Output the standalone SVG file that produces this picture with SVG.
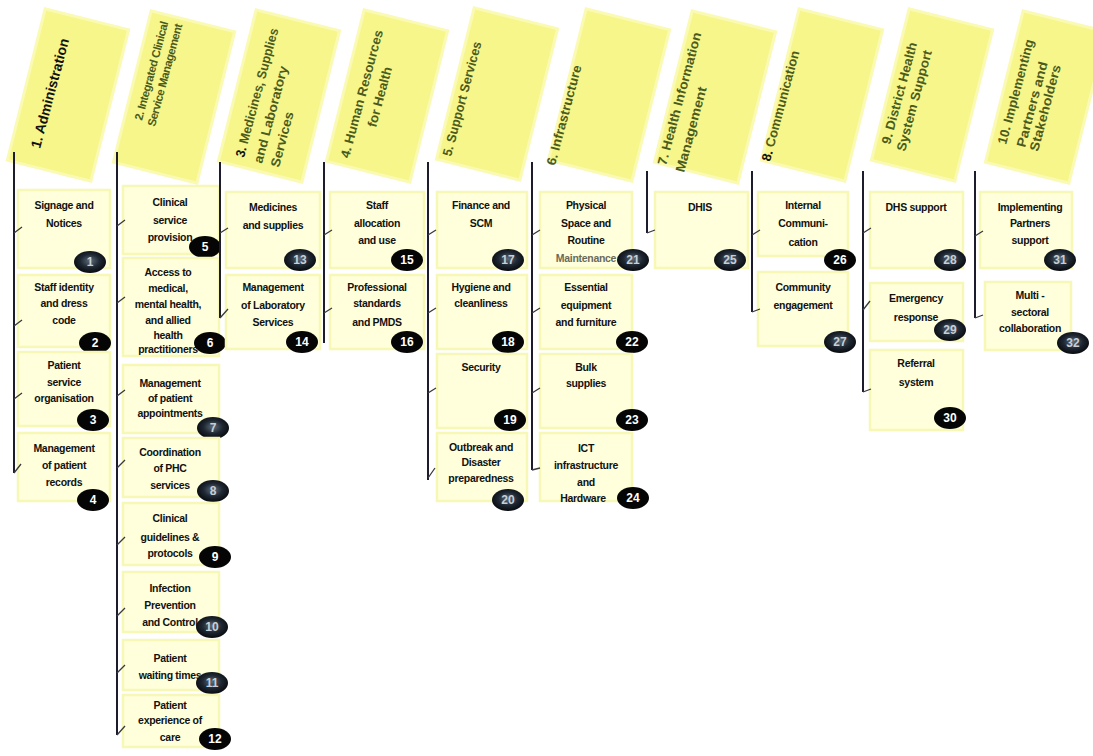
<svg xmlns="http://www.w3.org/2000/svg" width="1093" height="756" viewBox="0 0 1093 756">
<style>
.bgc{fill:#ffffff}
.hdr{fill:#f6f68a;stroke:#fafab4;stroke-width:3}
.ht{font-family:"Liberation Sans",Arial,sans-serif;font-weight:bold;fill:#4b5b1e}
.box{fill:#ffffdc;stroke:#f7f7b6;stroke-width:2.5}
.bt{font-family:"Liberation Sans",Arial,sans-serif;font-weight:bold;font-size:10.5px;letter-spacing:-0.3px;fill:#111;text-anchor:middle}
.bf{fill:#050505}
.bgl{fill:url(#gl)}
.bn{font-family:"Liberation Sans",Arial,sans-serif;font-weight:bold;font-size:12px;fill:#fff;text-anchor:middle}
.bng{font-family:"Liberation Sans",Arial,sans-serif;font-weight:bold;font-size:12px;fill:#c9ced4;text-anchor:middle}
.vl{stroke:#1c1c2c;stroke-width:2;fill:none}
.tk{stroke:#3a3a3a;stroke-width:1.3;fill:none}
</style>
<defs>
<radialGradient id="gl" cx="50%" cy="45%" r="60%">
<stop offset="0" stop-color="#5e6e7c"/>
<stop offset="0.5" stop-color="#1e2732"/>
<stop offset="1" stop-color="#040507"/>
</radialGradient>
</defs>
<rect class="bgc" x="0" y="0" width="1093" height="756"/>

<g id="headers">
<g id="h1"><rect class="hdr" x="-43" y="-78" width="86" height="156" transform="translate(68,95) rotate(14)"/>
<text class="ht" style="fill:#111" font-size="14" x="40" y="149" textLength="113" lengthAdjust="spacingAndGlyphs" transform="rotate(-75 40 149)">1. Administration</text></g>
<g id="h2"><rect class="hdr" x="-43" y="-78" width="86" height="156" transform="translate(174,97) rotate(14)"/>
<text class="ht" font-size="11.5" letter-spacing="-0.5" x="142" y="121" transform="rotate(-75 142 121)">2. Integrated Clinical</text>
<text class="ht" font-size="11.5" letter-spacing="-0.5" x="155" y="127" transform="rotate(-75 155 127)">Service Management</text></g>
<g id="h3"><rect class="hdr" x="-43" y="-78" width="86" height="156" transform="translate(279,96) rotate(14)"/>
<text class="ht" font-size="13" x="244" y="158" textLength="133" lengthAdjust="spacingAndGlyphs" transform="rotate(-75 244 158)"><tspan style="fill:#111">3.</tspan> Medicines, Supplies</text>
<text class="ht" font-size="13" x="262" y="164" textLength="100" lengthAdjust="spacingAndGlyphs" transform="rotate(-75 262 164)">and Laboratory</text>
<text class="ht" font-size="13" x="279" y="168" textLength="57" lengthAdjust="spacingAndGlyphs" transform="rotate(-75 279 168)">Services</text></g>
<g id="h4"><rect class="hdr" x="-43" y="-78" width="86" height="156" transform="translate(387,96) rotate(14)"/>
<text class="ht" font-size="13" text-anchor="middle" x="366" y="95" textLength="132" lengthAdjust="spacingAndGlyphs" transform="rotate(-75 366 95)">4. Human Resources</text>
<text class="ht" font-size="13" text-anchor="middle" x="384" y="98" textLength="62" lengthAdjust="spacingAndGlyphs" transform="rotate(-75 384 98)">for Health</text></g>
<g id="h5"><rect class="hdr" x="-43" y="-78" width="86" height="156" transform="translate(497,94) rotate(14)"/>
<text class="ht" font-size="13" x="451" y="157" textLength="118" lengthAdjust="spacingAndGlyphs" transform="rotate(-75 451 157)">5. Support Services</text></g>
<g id="h6"><rect class="hdr" x="-43" y="-78" width="86" height="156" transform="translate(609,95) rotate(14)"/>
<text class="ht" font-size="13" x="555" y="166" textLength="103" lengthAdjust="spacingAndGlyphs" transform="rotate(-75 555 166)">6. Infrastructure</text></g>
<g id="h7"><rect class="hdr" x="-43" y="-78" width="86" height="156" transform="translate(715,97) rotate(14)"/>
<text class="ht" font-size="13" x="666" y="166" textLength="137" lengthAdjust="spacingAndGlyphs" transform="rotate(-75 666 166)">7. Health Information</text>
<text class="ht" font-size="13" x="684" y="173" textLength="88" lengthAdjust="spacingAndGlyphs" transform="rotate(-75 684 173)">Management</text></g>
<g id="h8"><rect class="hdr" x="-43" y="-78" width="86" height="156" transform="translate(822,95) rotate(14)"/>
<text class="ht" font-size="13" x="770" y="162" textLength="114" lengthAdjust="spacingAndGlyphs" transform="rotate(-75 770 162)"><tspan style="fill:#111">8.</tspan> Communication</text></g>
<g id="h9"><rect class="hdr" x="-43" y="-78" width="86" height="156" transform="translate(932,95) rotate(14)"/>
<text class="ht" font-size="13" x="890" y="145" textLength="105" lengthAdjust="spacingAndGlyphs" transform="rotate(-75 890 145)">9. District Health</text>
<text class="ht" font-size="13" x="905" y="152" textLength="104" lengthAdjust="spacingAndGlyphs" transform="rotate(-75 905 152)">System Support</text></g>
<g id="h10"><rect class="hdr" x="-43" y="-78" width="86" height="156" transform="translate(1046,97) rotate(14)"/>
<text class="ht" font-size="13" x="1006" y="145" textLength="108" lengthAdjust="spacingAndGlyphs" transform="rotate(-75 1006 145)">10. Implementing</text>
<text class="ht" font-size="13" x="1025" y="148" textLength="88" lengthAdjust="spacingAndGlyphs" transform="rotate(-75 1025 148)">Partners and</text>
<text class="ht" font-size="13" x="1038" y="152" textLength="89" lengthAdjust="spacingAndGlyphs" transform="rotate(-75 1038 152)">Stakeholders</text></g>
</g>

<g id="nodes">
<!-- Column 1 -->
<g id="n1"><rect class="box" x="18" y="190" width="92" height="78"/><text class="bt" x="64" y="209">Signage and</text><text class="bt" x="64" y="227">Notices</text><ellipse class="bgl" cx="90" cy="262" rx="16" ry="11"/><text class="bng" x="90" y="266">1</text></g>
<g id="n2"><rect class="box" x="18" y="275" width="92" height="72"/><text class="bt" x="64" y="291">Staff identity</text><text class="bt" x="64" y="307">and dress</text><text class="bt" x="64" y="324">code</text><ellipse class="bf" cx="95" cy="343" rx="16" ry="11"/><text class="bn" x="95" y="347">2</text></g>
<g id="n3"><rect class="box" x="18" y="352" width="92" height="74"/><text class="bt" x="64" y="369">Patient</text><text class="bt" x="64" y="386">service</text><text class="bt" x="64" y="402">organisation</text><ellipse class="bf" cx="93" cy="420" rx="16" ry="11"/><text class="bn" x="93" y="424">3</text></g>
<g id="n4"><rect class="box" x="18" y="433" width="92" height="68"/><text class="bt" x="64" y="452">Management</text><text class="bt" x="64" y="469">of patient</text><text class="bt" x="64" y="486">records</text><ellipse class="bf" cx="93" cy="500" rx="16" ry="11"/><text class="bn" x="93" y="504">4</text></g>
<!-- Column 2 -->
<g id="n5"><rect class="box" x="123" y="186" width="96" height="68"/><text class="bt" x="170" y="206">Clinical</text><text class="bt" x="170" y="224">service</text><text class="bt" x="170" y="241">provision</text><ellipse class="bf" cx="205" cy="247" rx="16" ry="11"/><text class="bn" x="205" y="251">5</text></g>
<g id="n6"><rect class="box" x="123" y="258" width="96" height="98"/><text class="bt" x="168" y="276">Access to</text><text class="bt" x="168" y="292">medical,</text><text class="bt" x="168" y="308">mental health,</text><text class="bt" x="168" y="324">and allied</text><text class="bt" x="168" y="339">health</text><text class="bt" x="168" y="353">practitioners</text><ellipse class="bf" cx="210" cy="343" rx="16" ry="11"/><text class="bn" x="210" y="347">6</text></g>
<g id="n7"><rect class="box" x="123" y="365" width="96" height="68"/><text class="bt" x="170" y="387">Management</text><text class="bt" x="170" y="402">of patient</text><text class="bt" x="170" y="417">appointments</text><ellipse class="bgl" cx="213" cy="428" rx="16" ry="11"/><text class="bng" x="213" y="432">7</text></g>
<g id="n8"><rect class="box" x="123" y="438" width="96" height="59"/><text class="bt" x="170" y="456">Coordination</text><text class="bt" x="170" y="472">of PHC</text><text class="bt" x="170" y="489">services</text><ellipse class="bgl" cx="213" cy="491" rx="16" ry="11"/><text class="bng" x="213" y="495">8</text></g>
<g id="n9"><rect class="box" x="123" y="503" width="96" height="62"/><text class="bt" x="170" y="522">Clinical</text><text class="bt" x="170" y="541">guidelines &amp;</text><text class="bt" x="170" y="557">protocols</text><ellipse class="bf" cx="215" cy="557" rx="16" ry="11"/><text class="bn" x="215" y="561">9</text></g>
<g id="n10"><rect class="box" x="123" y="572" width="96" height="60"/><text class="bt" x="170" y="592">Infection</text><text class="bt" x="170" y="609">Prevention</text><text class="bt" x="170" y="626">and Control</text><ellipse class="bgl" cx="212" cy="627" rx="16" ry="11"/><text class="bng" x="212" y="631">10</text></g>
<g id="n11"><rect class="box" x="123" y="640" width="96" height="50"/><text class="bt" x="170" y="662">Patient</text><text class="bt" x="170" y="679">waiting times</text><ellipse class="bgl" cx="212" cy="683" rx="16" ry="11"/><text class="bng" x="212" y="687">11</text></g>
<g id="n12"><rect class="box" x="123" y="695" width="96" height="52"/><text class="bt" x="170" y="709">Patient</text><text class="bt" x="170" y="724">experience of</text><text class="bt" x="170" y="741">care</text><ellipse class="bf" cx="215" cy="739" rx="16" ry="11"/><text class="bn" x="215" y="743">12</text></g>
<!-- Column 3 -->
<g id="n13"><rect class="box" x="226" y="192" width="94" height="76"/><text class="bt" x="273" y="211">Medicines</text><text class="bt" x="273" y="229">and supplies</text><ellipse class="bgl" cx="300" cy="260" rx="16" ry="11"/><text class="bng" x="300" y="264">13</text></g>
<g id="n14"><rect class="box" x="226" y="275" width="94" height="74"/><text class="bt" x="273" y="291">Management</text><text class="bt" x="273" y="309">of Laboratory</text><text class="bt" x="273" y="326">Services</text><ellipse class="bf" cx="302" cy="342" rx="16" ry="11"/><text class="bn" x="302" y="346">14</text></g>
<!-- Column 4 -->
<g id="n15"><rect class="box" x="330" y="192" width="94" height="76"/><text class="bt" x="377" y="209">Staff</text><text class="bt" x="377" y="227">allocation</text><text class="bt" x="377" y="244">and use</text><ellipse class="bf" cx="407" cy="260" rx="16" ry="11"/><text class="bn" x="407" y="264">15</text></g>
<g id="n16"><rect class="box" x="330" y="275" width="94" height="74"/><text class="bt" x="377" y="291">Professional</text><text class="bt" x="377" y="307">standards</text><text class="bt" x="377" y="326">and PMDS</text><ellipse class="bf" cx="407" cy="342" rx="16" ry="11"/><text class="bn" x="407" y="346">16</text></g>
<!-- Column 5 -->
<g id="n17"><rect class="box" x="437" y="192" width="90" height="76"/><text class="bt" x="481" y="209">Finance and</text><text class="bt" x="481" y="227">SCM</text><ellipse class="bgl" cx="508" cy="260" rx="16" ry="11"/><text class="bng" x="508" y="264">17</text></g>
<g id="n18"><rect class="box" x="437" y="275" width="90" height="74"/><text class="bt" x="481" y="291">Hygiene and</text><text class="bt" x="481" y="307">cleanliness</text><ellipse class="bf" cx="508" cy="342" rx="16" ry="11"/><text class="bn" x="508" y="346">18</text></g>
<g id="n19"><rect class="box" x="437" y="354" width="90" height="74"/><text class="bt" x="481" y="371">Security</text><ellipse class="bf" cx="510" cy="420" rx="16" ry="11"/><text class="bn" x="510" y="424">19</text></g>
<g id="n20"><rect class="box" x="437" y="433" width="90" height="68"/><text class="bt" x="481" y="451">Outbreak and</text><text class="bt" x="481" y="466">Disaster</text><text class="bt" x="481" y="482">preparedness</text><ellipse class="bgl" cx="508" cy="500" rx="16" ry="11"/><text class="bng" x="508" y="504">20</text></g>
<!-- Column 6 -->
<g id="n21"><rect class="box" x="540" y="192" width="92" height="76"/><text class="bt" x="586" y="209">Physical</text><text class="bt" x="586" y="227">Space and</text><text class="bt" x="586" y="244">Routine</text><text class="bt" x="586" y="262" style="fill:#6a6a5a">Maintenance</text><ellipse class="bgl" cx="633" cy="260" rx="16" ry="11"/><text class="bng" x="633" y="264">21</text></g>
<g id="n22"><rect class="box" x="540" y="275" width="92" height="74"/><text class="bt" x="586" y="291">Essential</text><text class="bt" x="586" y="309">equipment</text><text class="bt" x="586" y="326">and furniture</text><ellipse class="bf" cx="632" cy="342" rx="16" ry="11"/><text class="bn" x="632" y="346">22</text></g>
<g id="n23"><rect class="box" x="540" y="354" width="92" height="74"/><text class="bt" x="586" y="371">Bulk</text><text class="bt" x="586" y="387">supplies</text><ellipse class="bf" cx="632" cy="420" rx="16" ry="11"/><text class="bn" x="632" y="424">23</text></g>
<g id="n24"><rect class="box" x="540" y="433" width="92" height="68"/><text class="bt" x="586" y="452">ICT</text><text class="bt" x="586" y="469">infrastructure</text><text class="bt" x="586" y="486">and</text><text class="bt" x="583" y="502">Hardware</text><ellipse class="bf" cx="633" cy="498" rx="16" ry="11"/><text class="bn" x="633" y="502">24</text></g>
<!-- Column 7 -->
<g id="n25"><rect class="box" x="655" y="192" width="93" height="76"/><text class="bt" x="700" y="211">DHIS</text><ellipse class="bgl" cx="730" cy="260" rx="16" ry="11"/><text class="bng" x="730" y="264">25</text></g>
<!-- Column 8 -->
<g id="n26"><rect class="box" x="758" y="192" width="90" height="64"/><text class="bt" x="803" y="209">Internal</text><text class="bt" x="803" y="227">Communi-</text><text class="bt" x="803" y="246">cation</text><ellipse class="bf" cx="840" cy="260" rx="16" ry="11"/><text class="bn" x="840" y="264">26</text></g>
<g id="n27"><rect class="box" x="758" y="272" width="90" height="74"/><text class="bt" x="803" y="291">Community</text><text class="bt" x="803" y="309">engagement</text><ellipse class="bgl" cx="840" cy="342" rx="16" ry="11"/><text class="bng" x="840" y="346">27</text></g>
<!-- Column 9 -->
<g id="n28"><rect class="box" x="870" y="192" width="93" height="76"/><text class="bt" x="916" y="211">DHS support</text><ellipse class="bgl" cx="950" cy="260" rx="16" ry="11"/><text class="bng" x="950" y="264">28</text></g>
<g id="n29"><rect class="box" x="870" y="283" width="93" height="58"/><text class="bt" x="916" y="302">Emergency</text><text class="bt" x="916" y="321">response</text><ellipse class="bgl" cx="950" cy="330" rx="16" ry="11"/><text class="bng" x="950" y="334">29</text></g>
<g id="n30"><rect class="box" x="870" y="350" width="93" height="80"/><text class="bt" x="916" y="367">Referral</text><text class="bt" x="916" y="386">system</text><ellipse class="bf" cx="950" cy="418" rx="16" ry="11"/><text class="bn" x="950" y="422">30</text></g>
<!-- Column 10 -->
<g id="n31"><rect class="box" x="980" y="192" width="92" height="76"/><text class="bt" x="1030" y="211">Implementing</text><text class="bt" x="1030" y="227">Partners</text><text class="bt" x="1030" y="244">support</text><ellipse class="bgl" cx="1060" cy="260" rx="16" ry="11"/><text class="bng" x="1060" y="264">31</text></g>
<g id="n32"><rect class="box" x="985" y="282" width="86" height="68"/><text class="bt" x="1030" y="299">Multi -</text><text class="bt" x="1030" y="316">sectoral</text><text class="bt" x="1030" y="332">collaboration</text><ellipse class="bgl" cx="1073" cy="343" rx="16" ry="11"/><text class="bng" x="1073" y="347">32</text></g>
</g>

<g id="connectors">
<path class="vl" d="M14 152V473M117 152V735M220 162V318M324 162V343M428 162V480M532 162V470M647 171V233M752 171V312M863 171V392M975 171V318"/>
<path class="tk" d="M14 233l8-6M14 326l8-6M14 399l8-6M14 473l7-9
M117 226l8-6M117 303l8-6M117 396l8-6M117 468l8-8M117 545l8-8M117 616l8-8M117 673l8-8M117 735l8-9
M220 233l8-5M220 318l8-9
M324 235l8-5M324 313l8-5
M428 235l8-5M428 313l8-5M428 393l8-5M428 478l7-10
M532 235l8-5M532 313l8-5M532 393l8-5M532 470l8-2
M647 233l8-3
M752 235l8-5M752 312l8-3
M863 233l8-5M863 310l7-9M863 392l8-3
M975 236l8-5M975 318l8-3"/>
</g>
</svg>
